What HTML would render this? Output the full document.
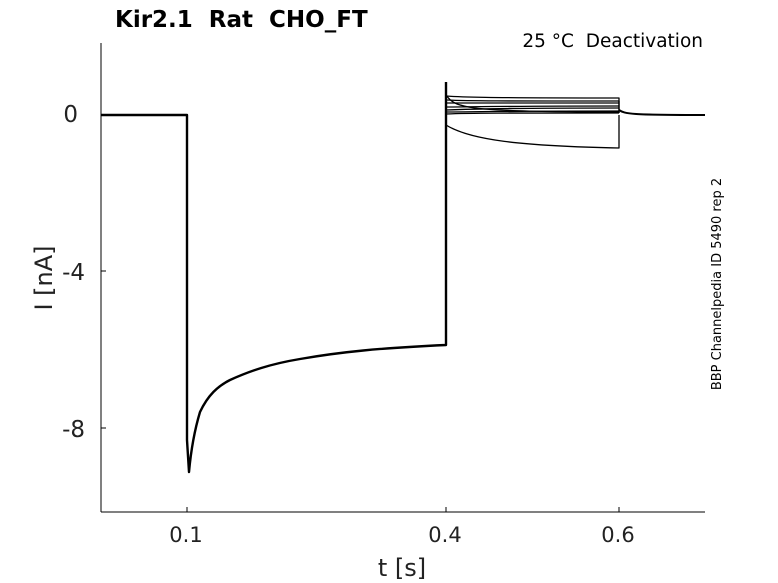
<!DOCTYPE html>
<html><head><meta charset="utf-8"><style>
html,body{margin:0;padding:0;background:#fff;}
svg{display:block;}
text{font-family:"DejaVu Sans","Liberation Sans",sans-serif;fill:#222;white-space:pre;}
</style></head><body>
<svg width="778" height="583" viewBox="0 0 778 583" xmlns="http://www.w3.org/2000/svg">
<rect width="778" height="583" fill="#fff"/>
<text x="115" y="27" font-size="23" font-weight="bold" style="fill:#000" xml:space="preserve">Kir2.1  Rat  CHO_FT</text>
<text x="703" y="47" font-size="18.5" text-anchor="end" style="fill:#000" xml:space="preserve">25 °C  Deactivation</text>
<text transform="translate(721,284) rotate(-90)" font-size="13" text-anchor="middle" style="fill:#000">BBP Channelpedia ID 5490 rep 2</text>
<line x1="101" y1="43" x2="101" y2="512" stroke="#000" stroke-width="1"/>
<line x1="101" y1="512" x2="705" y2="512" stroke="#000" stroke-width="1"/>
<g stroke="#000" stroke-width="1">
<line x1="101" y1="115" x2="106" y2="115"/>
<line x1="101" y1="271" x2="106" y2="271"/>
<line x1="101" y1="428" x2="106" y2="428"/>
<line x1="187" y1="512" x2="187" y2="507"/>
<line x1="446" y1="512" x2="446" y2="507"/>
<line x1="619" y1="512" x2="619" y2="507"/>
</g>
<g font-size="23" text-anchor="end">
<text x="78" y="122">0</text>
<text x="85" y="280">-4</text>
<text x="85" y="437">-8</text>
</g>
<g font-size="21" text-anchor="middle">
<text x="186" y="542">0.1</text>
<text x="445" y="542">0.4</text>
<text x="618" y="542">0.6</text>
<text x="402" y="576" font-size="24">t [s]</text>
</g>
<text transform="translate(52,278) rotate(-90)" font-size="24" text-anchor="middle">I [nA]</text>
<g fill="none" stroke="#000" stroke-width="1.3" stroke-linejoin="round">
<path d="M101,115 L187,115 L187,440 L189,472 C191,450 194,432 200,412 C208,395 218,386 230,380 C250,371 270,364 300,359 C340,352 380,348 446,345 L446,82" stroke-width="2.4"/>
<path d="M446,96 C460,97 480,98 619,98 L619,113"/>
<path d="M446,100 C470,101 500,101 619,101 L619,113"/>
<path d="M446,103 C470,103 500,103 619,103"/>
<path d="M446,107 C470,107 500,106 619,106"/>
<path d="M446,110 C470,109 500,108 619,108"/>
<path d="M446,112 C470,112 500,111 619,111"/>
<path d="M446,114 C470,113 500,113 619,113"/>
<path d="M446,95 C455,108 465,112 619,112"/>
<path d="M446,125 C470,140 520,146 619,148 L619,115"/>
<path d="M619,110 C625,114 630,115 705,115" stroke-width="2"/>
</g>
</svg>
</body></html>
